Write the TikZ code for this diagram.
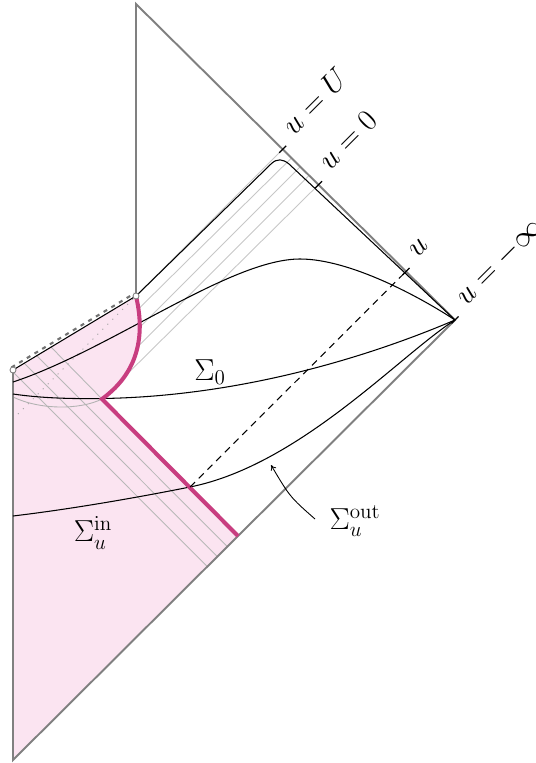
\documentclass[tikz,border=0pt]{standalone}
\usepackage{amsmath}
\usetikzlibrary{arrows.meta,calc}
\definecolor{pinkfill}{RGB}{251,228,241}
\definecolor{pinkline}{RGB}{200,62,128}
\definecolor{bgray}{RGB}{128,128,128}
\begin{document}
\begin{tikzpicture}[x=0.02cm,y=-0.02cm,
  font=\fontsize{17}{20}\selectfont,
  boundary/.style={draw=bgray,line width=1.1pt},
  curve/.style={draw=black,line width=0.6pt},
  ray/.style={draw=black!22,line width=0.5pt},
  rayin/.style={draw=black!28,line width=0.5pt},
  shell/.style={draw=pinkline,line width=2.3pt},
  tickmark/.style={draw=black,line width=0.7pt},
  ulabel/.style={rotate=45,anchor=base west,inner sep=0pt}]
\useasboundingbox (0,0) rectangle (536,763);
% key points
\coordinate (top) at (136,4);
\coordinate (ip) at (455,320);
\coordinate (im) at (13,760);
\coordinate (s1) at (13,370);
\coordinate (s2) at (136,296);
\coordinate (k) at (102,399);
\coordinate (e) at (238,536);
\coordinate (tU) at (282.7,149.3);
\coordinate (t0) at (318.5,184.7);
\coordinate (tu) at (406,271.5);
\coordinate (d1) at (190,487);
% pink region
\fill[pinkfill] (s1) -- (s2) .. controls (144,330) and (142,370) .. (k) -- (e) -- (im) -- cycle;
% gray rays: outgoing between u=U and u=0
\draw[ray] (s2) -- (tU);
\draw[ray] (138.4,309) -- (291.5,158.0);
\draw[ray] (139.9,327) -- (300.3,166.7);
\draw[ray] (137,347.5) -- (309.1,175.4);
\draw[ray] (k) -- (t0);
% ingoing rays inside pink region
\draw[rayin] (51,347) -- (k);
\draw[rayin] (36.7,355.7) -- (227.8,547);
\draw[rayin] (24.3,363.3) -- (217.8,557);
\draw[rayin] (13,372) -- (207.8,567);
% dotted continuation of u=U
\draw[draw=black!35,line width=0.6pt,dash pattern=on 0.6pt off 3.4pt] (13,419) -- (s2);
% gray arc under Sigma_0
\draw[draw=black!30,line width=0.5pt] (13,397) .. controls (40,410) and (80,410) .. (k);
% boundary
\draw[boundary] (s2) -- (top) -- (ip) -- (im) -- (s1);
% singular line
\draw[draw=black!55,line width=1.2pt,dash pattern=on 2.3pt off 2.8pt] (11.5,367.4) -- (134.5,293.4);
\draw[curve] (s1) -- (s2);
% curves
\draw[curve] (13,394) .. controls (40,398) and (70,399) .. (103,398.5)
  .. controls (250,396) and (380,352) .. (ip);
\draw[curve] (13,382) .. controls (110,350) and (230,259) .. (300,259)
  .. controls (350,259) and (420,297) .. (ip);
\draw[curve] (13,516) .. controls (80,508) and (150,495) .. (d1)
  .. controls (300,465) and (400,355) .. (ip);
\draw[curve] (s2) -- (271,164) .. controls (277,158) and (283,159) .. (289,164) -- (ip);
% shell
\draw[shell] (s2) .. controls (144,330) and (142,370) .. (k) -- (e);
% dashed ray
\draw[draw=black,line width=0.6pt,dash pattern=on 4pt off 3pt] (d1) -- (tu);
% circles
\draw[draw=bgray,fill=white,line width=0.5pt] (s1) circle[radius=3];
\draw[draw=bgray,fill=white,line width=0.5pt] (s2) circle[radius=3];
% ticks
\foreach \p in {tU,t0,tu,ip} {\draw[tickmark] ($(\p)+(-3.5,3.5)$) -- ($(\p)+(3.5,-3.5)$);}
% labels
\node[ulabel] (lU) at ($(tU)+(11,-13)$) {$u=U$};
\node[ulabel] (l0) at ($(t0)+(11,-13)$) {$u=0$};
\node[ulabel] (lu) at ($(tu)+(11,-13)$) {$u$};
\node[ulabel] (lm) at ($(ip)+(11,-13)$) {$u=-\infty$};
\node (sig0) at (210,372) {$\Sigma_0$};
\node (sigin) at (93,533) {$\Sigma_u^{\mathrm{in}}$};
\node (sigout) at (355,521) {$\Sigma_u^{\mathrm{out}}$};
\coordinate (astart) at (315,519);
\coordinate (aend) at (271,465);
\draw[line width=0.5pt,-{To[length=3pt,width=3.5pt]}] (astart) .. controls (290,497) .. (aend);
\end{tikzpicture}
\end{document}
